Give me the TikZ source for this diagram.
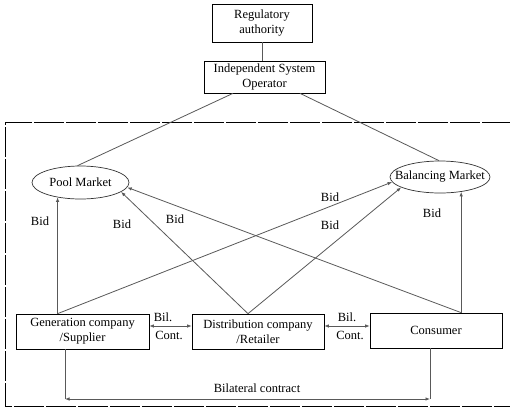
\documentclass[tikz,border=0pt]{standalone}
\usepackage{fontspec}
\setmainfont{Liberation Serif}
\usetikzlibrary{shapes.geometric,arrows.meta,calc}
\begin{document}
\begin{tikzpicture}[x=1pt,y=-1pt,
  font=\fontsize{12.5}{15}\selectfont,
  box/.style={draw=black,line width=0.7pt,rectangle,align=center,inner sep=0pt},
  oval/.style={draw=black!80,line width=0.7pt,ellipse,inner sep=0pt},
  conn/.style={draw=black!65,line width=0.8pt},
  tip/.style={-{Latex[length=4.5pt,width=3.5pt]}},
  dtip/.style={{Latex[length=4.5pt,width=3.5pt]}-{Latex[length=4.5pt,width=3.5pt]}},
  lbl/.style={inner sep=0pt}]
\useasboundingbox (0,0) rectangle (510,408);
\fill[white] (0,0) rectangle (510,408);

% dashed frame
\draw[black,line width=0.8pt,dash pattern=on 30pt off 2pt] (512,122) -- (5,122) -- (5,406) -- (512,406);

% nodes
\node[box,minimum width=100pt,minimum height=38pt] (reg) at (262,23) {Regulatory\\authority};
\node[box,minimum width=121pt,minimum height=32pt] (iso) at (264.5,77) {Independent System\\Operator};
\node[oval,minimum width=97pt,minimum height=33pt] (pool) at (80.5,182.5) {\makebox[0pt]{Pool Market}};
\node[oval,minimum width=100pt,minimum height=32pt] (bal) at (440,177) {\makebox[0pt]{Balancing Market}};
\node[box,minimum width=133pt,minimum height=35pt] (gen) at (82.5,331.5) {Generation company\\/Supplier};
\node[box,minimum width=132pt,minimum height=35pt] (dist) at (258,331.5) {Distribution company\\/Retailer};
\node[box,minimum width=132pt,minimum height=35pt] (cons) at (436,330.5) {Consumer};

% top connectors
\draw[conn] (reg.south -| 262,0) -- (iso.north -| 262,0);
\draw[conn] ([xshift=-31.5pt]iso.south) -- ([xshift=-3pt]pool.north);
\draw[conn] ([xshift=35.5pt]iso.south) -- ([xshift=-1pt]bal.north);

% bid arrows
\coordinate (gtop) at (gen.north -| pool.213);
\coordinate (dtop) at ([xshift=-10pt]dist.north);
\coordinate (ctop) at (cons.north -| bal.-35);
\draw[conn,tip] (gtop) -- (pool.213);
\draw[conn,tip] (gtop) -- (bal.186);
\draw[conn,tip] (dtop) -- (pool.-13);
\draw[conn,tip] (dtop) -- (bal.195);
\draw[conn,tip] (ctop) -- (pool.-6);
\draw[conn,tip] (ctop) -- (bal.-35);

% bilateral contracts between boxes
\draw[conn,dtip] ([yshift=5.5pt]gen.east) -- ([yshift=5.5pt]gen.east -| dist.west);
\draw[conn,dtip] ([yshift=5.5pt]dist.east) -- ([yshift=5.5pt]dist.east -| cons.west);

% bilateral contract below
\coordinate (bl) at (65,399);
\coordinate (br) at (430,399);
\draw[conn] (gen.south -| bl) -- (bl);
\draw[conn] (cons.south -| br) -- (br);
\draw[conn,dtip] (bl) -- (br);

% labels
\node[lbl] (b1) at (40,221) {Bid};
\node[lbl] (b2) at (122,224) {Bid};
\node[lbl] (b3) at (175,219) {Bid};
\node[lbl] (b4) at (330,197) {Bid};
\node[lbl] (b5) at (330,225) {Bid};
\node[lbl] (b6) at (432,213) {Bid};
\node[lbl] (bc1) at (163,317) {Bil.};
\node[lbl] (cc1) at (169,335) {Cont.};
\node[lbl] (bc2) at (347,317) {Bil.};
\node[lbl] (cc2) at (350,335) {Cont.};
\node[lbl] (bil) at (257,388) {Bilateral contract};
\end{tikzpicture}
\end{document}
